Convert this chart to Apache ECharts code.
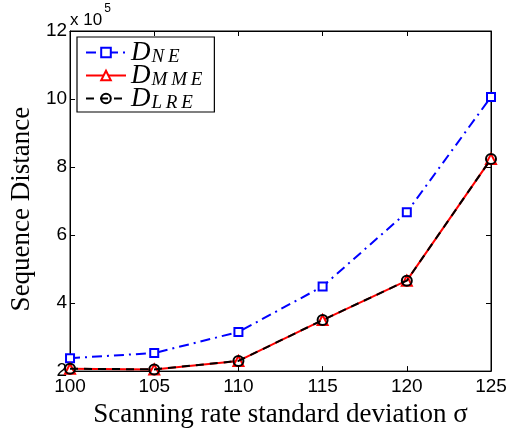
<!DOCTYPE html>
<html>
<head>
<meta charset="utf-8">
<script src="https://cdn.jsdelivr.net/npm/echarts@6/dist/echarts.min.js"></script>
<style>html,body{margin:0;padding:0;background:#fff}#c{width:514px;height:433px}</style>
</head>
<body>
<div id="c"></div>
<script>
var xValues = [100, 105, 110, 115, 120, 125];
var dNE  = [2.38, 2.53, 3.15, 4.49, 6.67, 10.06];
var dMME = [2.07, 2.05, 2.30, 3.50, 4.66, 8.24];
var dLRE = [2.07, 2.05, 2.30, 3.50, 4.66, 8.24];
var seriesNames = ['NE', 'MME', 'LRE'];

function pairs(vals){ return xValues.map(function(x,i){ return [x, vals[i]]; }); }

var chart = echarts.init(document.getElementById('c'), null, {renderer:'canvas'});
var tickFont = {fontFamily:'Liberation Sans, Arial, sans-serif', fontSize:19, color:'#000'};
var serif = 'Liberation Serif, Times New Roman, serif';

chart.setOption({
  animation:false,
  backgroundColor:'#fff',
  grid:{left:69, right:23, top:31, bottom:57, show:true, borderColor:'#000', borderWidth:1},
  legend:{
    orient:'vertical', left:77, top:37,
    data:seriesNames,
    borderColor:'#000', borderWidth:1.2,
    padding:[2,12,0,8], itemGap:-4,
    itemWidth:40, itemHeight:12,
    formatter:function(n){ return '{d|D}{s|' + n.split('').join('\u2009') + '}'; },
    textStyle:{
      fontSize:12, lineHeight:23, height:23,
      rich:{
        d:{fontFamily:serif, fontStyle:'italic', fontSize:27, lineHeight:23, height:23, color:'#000'},
        s:{fontFamily:serif, fontStyle:'italic', fontSize:19, lineHeight:15, height:15, color:'#000', verticalAlign:'bottom', padding:[8,0,0,1]}
      }
    }
  },
  xAxis:[{
    type:'value', min:100, max:125, interval:5,
    axisLine:{lineStyle:{color:'#000', width:1}},
    axisTick:{inside:true, length:5, lineStyle:{color:'#000'}},
    axisLabel:Object.assign({margin:6}, tickFont),
    splitLine:{show:false},
    name:'Scanning rate standard deviation \u03c3',
    nameLocation:'middle', nameGap:27,
    nameTextStyle:{fontFamily:serif, fontSize:27, color:'#000'}
  },{
    type:'value', position:'top', min:100, max:125, interval:5,
    axisLine:{lineStyle:{color:'#000'}},
    axisTick:{inside:true, length:5, lineStyle:{color:'#000'}},
    axisLabel:{show:false}, splitLine:{show:false}
  }],
  yAxis:[{
    type:'value', min:2, max:12, interval:2,
    axisLine:{lineStyle:{color:'#000', width:1}},
    axisTick:{inside:true, length:5, lineStyle:{color:'#000'}},
    axisLabel:Object.assign({margin:3}, tickFont),
    splitLine:{show:false},
    name:'Sequence Distance', nameLocation:'middle', nameGap:31,
    nameTextStyle:{fontFamily:serif, fontSize:27, color:'#000', padding:[0,16,0,0]}
  },{
    type:'value', position:'right', min:2, max:12, interval:2,
    axisLine:{lineStyle:{color:'#000'}},
    axisTick:{inside:true, length:5, lineStyle:{color:'#000'}},
    axisLabel:{show:false}, splitLine:{show:false}
  }],
  graphic:[{
    type:'text', left:70, top:3,
    style:{
      text:'{a|x 10}{b|5}',
      rich:{
        a:{fontFamily:'Liberation Sans, Arial, sans-serif', fontSize:17, color:'#000', padding:[9,0,0,0]},
        b:{fontFamily:'Liberation Sans, Arial, sans-serif', fontSize:12, color:'#000', verticalAlign:'top', padding:[0,0,10,2]}
      }
    }
  }],
  series:[{
    name:'NE', type:'line', data:pairs(dNE),
    symbol:'rect', symbolSize:8, showAllSymbol:true,
    lineStyle:{color:'#0000ff', width:2, type:[10,5,2,5]},
    itemStyle:{color:'#fff', borderColor:'#0000ff', borderWidth:2},
    z:3
  },{
    name:'MME', type:'line', data:pairs(dMME),
    symbol:'triangle', symbolSize:10,
    lineStyle:{color:'#ff0000', width:2, type:'solid'},
    itemStyle:{color:'#fff', borderColor:'#ff0000', borderWidth:2},
    z:4
  },{
    name:'LRE', type:'line', data:pairs(dLRE),
    symbol:'circle', symbolSize:10,
    lineStyle:{color:'#000', width:2, type:[8,6]},
    itemStyle:{color:'rgba(255,255,255,0)', borderColor:'#000', borderWidth:2},
    z:5
  }]
});
</script>
</body>
</html>
